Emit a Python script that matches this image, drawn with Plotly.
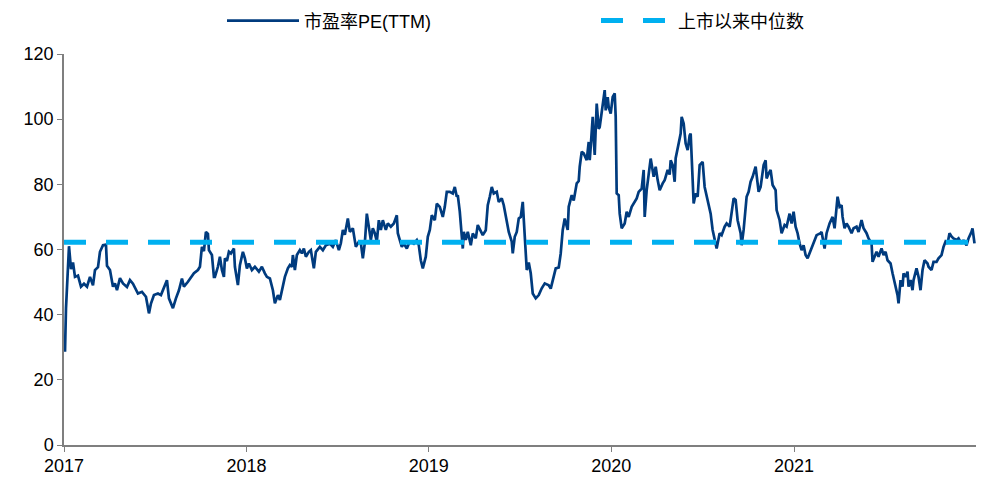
import plotly.graph_objects as go

dates = [
"2017-01-03","2017-01-05","2017-01-11","2017-01-15","2017-01-19","2017-01-23","2017-01-29","2017-02-04","2017-02-10","2017-02-16",
"2017-02-22","2017-02-28","2017-03-04","2017-03-10","2017-03-14","2017-03-20","2017-03-26","2017-03-28","2017-04-03","2017-04-09",
"2017-04-13","2017-04-17","2017-04-23","2017-04-29","2017-05-07","2017-05-13","2017-05-19","2017-05-23","2017-05-29","2017-06-06",
"2017-06-14","2017-06-20","2017-06-24","2017-06-30","2017-07-08","2017-07-14","2017-07-20","2017-07-26","2017-07-30","2017-08-03",
"2017-08-07","2017-08-13","2017-08-19","2017-08-25","2017-08-29","2017-09-06","2017-09-12","2017-09-18","2017-09-26","2017-09-30",
"2017-10-04","2017-10-08","2017-10-12","2017-10-16","2017-10-18","2017-10-24","2017-10-28","2017-10-30","2017-11-05","2017-11-09",
"2017-11-13","2017-11-17","2017-11-19","2017-11-23","2017-11-27","2017-12-01","2017-12-07","2017-12-09","2017-12-15","2017-12-19",
"2017-12-25","2017-12-29",
"2018-01-02","2018-01-06","2018-01-12","2018-01-18","2018-01-26","2018-02-01","2018-02-07","2018-02-11","2018-02-17","2018-02-23",
"2018-02-27","2018-03-05","2018-03-09","2018-03-15","2018-03-19","2018-03-25","2018-03-29","2018-04-02","2018-04-04","2018-04-08",
"2018-04-12","2018-04-18","2018-04-22","2018-04-26","2018-04-30","2018-05-06","2018-05-10","2018-05-16","2018-05-20","2018-05-28",
"2018-06-03","2018-06-09","2018-06-17","2018-06-23","2018-06-29","2018-07-05","2018-07-09","2018-07-13","2018-07-17","2018-07-23",
"2018-07-27","2018-08-02","2018-08-08","2018-08-14","2018-08-18","2018-08-22","2018-08-26","2018-08-30","2018-09-03","2018-09-07",
"2018-09-11","2018-09-15","2018-09-19","2018-09-23","2018-09-27","2018-10-01","2018-10-07","2018-10-11","2018-10-17","2018-10-23",
"2018-10-29","2018-10-31","2018-11-04","2018-11-08","2018-11-12","2018-11-18","2018-11-22","2018-11-26","2018-12-02","2018-12-08",
"2018-12-12","2018-12-16","2018-12-20","2018-12-26","2018-12-30",
"2019-01-03","2019-01-07","2019-01-13","2019-01-17","2019-01-23","2019-01-29","2019-02-02","2019-02-06","2019-02-12","2019-02-18",
"2019-02-22","2019-02-26","2019-02-28","2019-03-04","2019-03-08","2019-03-10","2019-03-12","2019-03-16","2019-03-20","2019-03-26",
"2019-03-30","2019-04-05","2019-04-09","2019-04-15","2019-04-19","2019-04-25","2019-04-29","2019-05-03","2019-05-07","2019-05-11",
"2019-05-17","2019-05-21","2019-05-27","2019-05-31","2019-06-06","2019-06-10","2019-06-16","2019-06-18","2019-06-22","2019-06-26",
"2019-06-30","2019-07-04","2019-07-08","2019-07-12","2019-07-16","2019-07-20","2019-07-24","2019-07-28","2019-08-03","2019-08-09",
"2019-08-15","2019-08-21","2019-08-29","2019-09-02","2019-09-06","2019-09-12","2019-09-18","2019-09-22","2019-09-26","2019-09-30",
"2019-10-06","2019-10-08","2019-10-14","2019-10-18","2019-10-24","2019-10-28","2019-10-30","2019-11-03","2019-11-07","2019-11-13",
"2019-11-17","2019-11-19","2019-11-21","2019-11-25","2019-11-27","2019-11-29","2019-12-03","2019-12-07","2019-12-09","2019-12-13",
"2019-12-19","2019-12-21","2019-12-25","2019-12-27","2019-12-31",
"2020-01-04","2020-01-08","2020-01-10","2020-01-12","2020-01-16","2020-01-18","2020-01-22","2020-01-28","2020-02-01","2020-02-05",
"2020-02-11","2020-02-17","2020-02-21","2020-02-25","2020-03-02","2020-03-06","2020-03-08","2020-03-12","2020-03-16","2020-03-20",
"2020-03-26","2020-03-30","2020-04-03","2020-04-07","2020-04-13","2020-04-17","2020-04-23","2020-04-27","2020-04-29","2020-05-03",
"2020-05-07","2020-05-09","2020-05-15","2020-05-19","2020-05-21","2020-05-25","2020-05-29","2020-06-02","2020-06-06","2020-06-08",
"2020-06-12","2020-06-14","2020-06-18","2020-06-22","2020-06-26","2020-07-02","2020-07-06","2020-07-12","2020-07-18","2020-07-22",
"2020-07-26","2020-07-30","2020-08-05","2020-08-09","2020-08-15","2020-08-19","2020-08-25","2020-08-27","2020-09-02","2020-09-06",
"2020-09-10","2020-09-16","2020-09-18","2020-09-22","2020-09-26","2020-09-28","2020-10-02","2020-10-06","2020-10-10","2020-10-16",
"2020-10-18","2020-10-22","2020-10-26","2020-10-28","2020-11-01","2020-11-05","2020-11-07","2020-11-11","2020-11-15","2020-11-19",
"2020-11-25","2020-11-27","2020-12-03","2020-12-07","2020-12-13","2020-12-17","2020-12-23","2020-12-27","2020-12-31",
"2021-01-04","2021-01-08","2021-01-12","2021-01-16","2021-01-20","2021-01-24","2021-01-28","2021-02-03","2021-02-09","2021-02-15",
"2021-02-23","2021-02-25","2021-03-03","2021-03-07","2021-03-13","2021-03-19","2021-03-23","2021-03-27","2021-03-29","2021-04-02",
"2021-04-06","2021-04-08","2021-04-12","2021-04-16","2021-04-20","2021-04-26","2021-04-30","2021-05-06","2021-05-10","2021-05-16",
"2021-05-20","2021-05-26","2021-05-30","2021-06-05","2021-06-07","2021-06-11","2021-06-15","2021-06-19","2021-06-25","2021-06-29",
"2021-07-03","2021-07-07","2021-07-13","2021-07-17","2021-07-23","2021-07-27","2021-07-29","2021-07-31","2021-08-02","2021-08-06",
"2021-08-08","2021-08-12","2021-08-16","2021-08-18","2021-08-22","2021-08-26","2021-08-28","2021-09-03","2021-09-07","2021-09-11",
"2021-09-15","2021-09-19","2021-09-25","2021-09-27","2021-10-03","2021-10-07","2021-10-13","2021-10-17","2021-10-23","2021-10-27",
"2021-10-31","2021-11-04","2021-11-08","2021-11-12","2021-11-16","2021-11-22","2021-11-26","2021-12-02","2021-12-06","2021-12-12",
"2021-12-16","2021-12-22","2021-12-24","2021-12-28",
]

pe_ttm = [
28.6,42,61,54,56,51.6,52,48.6,49.5,48.6,
51.6,49,53.7,54.6,59.3,61.3,61.5,55,53.7,48.6,
49.6,47.5,51.2,49.6,48.5,50.6,49.5,48.2,46.5,47,
45.5,40.4,43.4,46,46.5,46,48.6,50.6,45,43.5,
42,45,47.5,51.1,48.6,50.1,51.6,52.7,53.7,54.7,
60.8,59.5,65.4,64.8,59.8,58.3,51.6,51.6,54.7,57.8,
53.7,51.6,57.3,56.5,59.3,58.8,60.3,54.7,49.1,55.2,
59.3,57.3,
54.2,55.7,53.7,54.7,53.2,54.7,52.7,51.6,51.1,47.5,
43.5,46,44.5,48.6,51.6,54.2,55.2,54.7,58.3,53.7,
58.3,59.8,58.8,60.3,57.8,59.3,59.8,54.2,59.3,60.8,
59.8,61.3,61.8,60.8,62.9,59.8,61.9,66,64.5,69.5,
65.4,66.5,60.8,62.4,62,57.3,62,71,67,62.9,
66.5,65,62.4,69,66,69,66,68,67,68,
70.5,65,62.9,60.8,61.8,60.3,61.8,62.4,61.8,62.9,
61.3,56.7,54.2,57.8,63.9,
66,70.5,69,74.1,73.1,70,73.1,77.7,77.7,77.2,
79.2,76.2,76.7,71.6,63.9,60.3,65.4,62.9,65.4,61.3,
64.9,63.4,67.5,65.4,64.4,65.9,73.6,76.2,79.2,77.2,
77.7,74.6,75.7,73.6,68,65.4,62.4,58.8,63.9,65.4,
69.5,70,74.6,61.9,53.7,56,52.7,46.5,45,46,
48.1,49.6,49,48,50.6,54.2,54.5,58.8,66,69.5,
66,73.1,76.7,75,80.3,81,85.4,90,89.5,87.4,
93,87.4,91.5,100.7,94,89,104.8,97,97.6,101.7,
108.9,102.7,106.8,103.7,101.7,
106.8,107.9,100.7,77.2,76.7,71,66.5,68,71.6,70,
73.1,74.6,75.7,77.7,78.7,84.4,70,78.2,82.3,87.9,
82.3,85.4,81.3,78.2,80.3,81.3,84.4,83,87.4,85.9,
80.8,88,92.5,95.6,100.7,98.7,92.5,90.5,95,95.6,
81.3,74.1,77.2,76.2,85.9,86.9,79.2,75.2,71,66,
62.9,60.3,65,64.4,67,68,67,69.5,75.7,75.2,
69,65,61.3,66,72.6,76.2,77.7,80.8,82.3,85.4,
82.8,77.7,79.2,81.8,85.9,87.4,81.8,83.3,84.4,79.8,
78.2,72.1,69,65,67.5,67,71,68,71.6,
67,65,61.9,59.8,61.3,58.3,57.3,59.8,61.9,64.4,
65,65.4,60.3,65,68,70,66.5,72.1,76.2,73.1,
73.6,70,66.5,68,67,65,66.5,67,65.4,69,
66.5,65,63.4,61.9,56.2,57.8,59.3,57.8,60.3,58.3,
59.3,56.7,55.7,52.7,48.6,46,43.5,47.5,50.6,48.6,
52.7,51.6,53.2,48.6,50.6,47.5,50.6,54.2,51.6,47.5,
53.7,56.7,55.7,54.7,53.7,56.2,56.2,57.3,58.3,60.8,
62.4,61.8,65,64,63.4,62.9,63.4,61.8,62.9,61.3,
63.4,65.4,66.5,61.9,
]

median_value = 62.2
median_dates = ["2017-01-01", "2021-12-31"]
median_values = [median_value, median_value]

year_ticks = ["2017-01-01", "2018-01-01", "2019-01-01", "2020-01-01", "2021-01-01"]
year_labels = ["2017", "2018", "2019", "2020", "2021"]
y_ticks = [0, 20, 40, 60, 80, 100, 120]

fig = go.Figure()
fig.add_trace(go.Scatter(
    x=dates, y=pe_ttm, mode="lines", name="市盈率PE(TTM)",
    line=dict(color="#003B7E", width=2.7),
))
fig.add_trace(go.Scatter(
    x=median_dates, y=median_values, mode="lines", name="上市以来中位数",
    line=dict(color="#00B0F0", width=5, dash="22px,20px"),
))

font_family = "Liberation Sans, Arial, Noto Sans CJK SC, sans-serif"
fig.update_layout(
    width=983, height=477,
    margin=dict(l=64, r=7, t=54, b=32, autoexpand=False),
    paper_bgcolor="white", plot_bgcolor="white",
    font=dict(family=font_family, size=18, color="#000000"),
    legend=dict(
        orientation="h", xref="container", x=222 / 983, xanchor="left",
        yref="container", y=0.995, yanchor="top",
        entrywidth=287, itemwidth=72,
        font=dict(size=18, family=font_family),
        bgcolor="rgba(0,0,0,0)",
    ),
    showlegend=True,
)
fig.update_xaxes(
    type="date", range=["2017-01-01", "2021-12-31"],
    tickvals=year_ticks, ticktext=year_labels,
    showline=True, linecolor="#7F7F7F", linewidth=1.5,
    ticks="outside", ticklen=5, tickcolor="#7F7F7F",
    showgrid=False, zeroline=False, automargin=False,
    ticklabelstandoff=-1,
    tickfont=dict(size=18, family=font_family),
)
fig.update_yaxes(
    range=[0, 120], tickvals=y_ticks,
    showline=True, linecolor="#7F7F7F", linewidth=1.5,
    ticks="outside", ticklen=5, tickcolor="#7F7F7F",
    showgrid=False, zeroline=False, automargin=False,
    tickfont=dict(size=18, family=font_family),
)

fig.write_html(
    "out.html",
    config={"displayModeBar": False},
    post_script="document.body.style.margin='0';document.body.style.overflow='hidden';",
)
